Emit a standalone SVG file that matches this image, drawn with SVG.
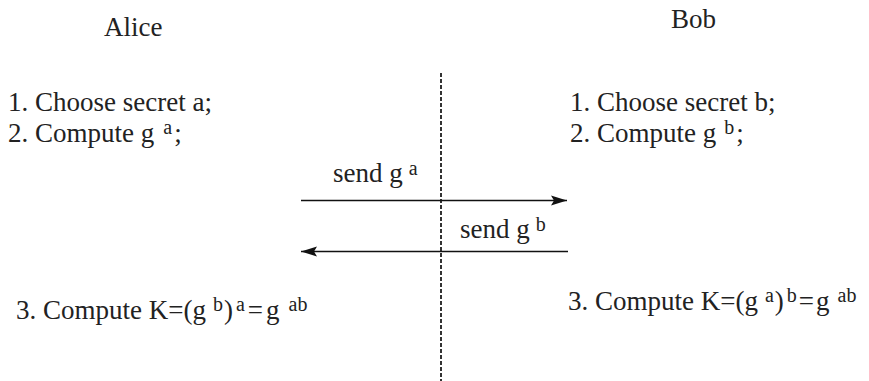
<svg xmlns="http://www.w3.org/2000/svg" width="869" height="381" viewBox="0 0 869 381">
<style>
text{font-family:"Liberation Serif","Times New Roman",serif;font-size:27px;fill:#222}
.s{font-size:20px}
.ln{stroke:#111;stroke-width:1.6;fill:none}
.dash{stroke:#333;stroke-width:2;stroke-dasharray:4 2;fill:none}
</style>
<defs>
<marker id="ah" markerWidth="18" markerHeight="12" refX="16" refY="6" orient="auto" markerUnits="userSpaceOnUse">
<path d="M0,1 L16,6 L0,11 L3,6 Z" fill="#111"/>
</marker>
</defs>
<g id="alice"><text x="104" y="36">Alice</text></g>
<g id="bob"><text x="671" y="28">Bob</text></g>
<g id="alice-steps">
<text x="8" y="111">1. Choose secret a;</text>
<text x="8" y="142">2. Compute g<tspan class="s" dx="9" dy="-8">a</tspan><tspan dy="8" dx="2">;</tspan></text>
<text x="16" y="319">3. Compute K=(g<tspan class="s" dx="7" dy="-8">b</tspan><tspan dy="8" dx="1">)</tspan><tspan class="s" dy="-8" dx="3">a</tspan><tspan dy="8" dx="3">=</tspan><tspan dx="3">g</tspan><tspan class="s" dx="9" dy="-8">ab</tspan></text>
</g>
<g id="bob-steps">
<text x="570" y="111">1. Choose secret b;</text>
<text x="570" y="142">2. Compute g<tspan class="s" dx="8" dy="-8">b</tspan><tspan dy="8" dx="2">;</tspan></text>
<text x="568" y="310">3. Compute K=(g<tspan class="s" dx="7" dy="-8">a</tspan><tspan dy="8" dx="1">)</tspan><tspan class="s" dy="-8" dx="3">b</tspan><tspan dy="8" dx="2">=</tspan><tspan dx="2">g</tspan><tspan class="s" dx="8" dy="-8">ab</tspan></text>
</g>
<g id="connectors">
<line class="dash" x1="441" y1="73" x2="441" y2="381"/>
<line class="ln" x1="301" y1="200.5" x2="567" y2="200.5" marker-end="url(#ah)"/>
<line class="ln" x1="568" y1="251.5" x2="301" y2="251.5" marker-end="url(#ah)"/>
<text x="333" y="182">send g<tspan class="s" dx="6" dy="-7">a</tspan></text>
<text x="460" y="238">send g<tspan class="s" dx="6" dy="-7">b</tspan></text>
</g>
</svg>
